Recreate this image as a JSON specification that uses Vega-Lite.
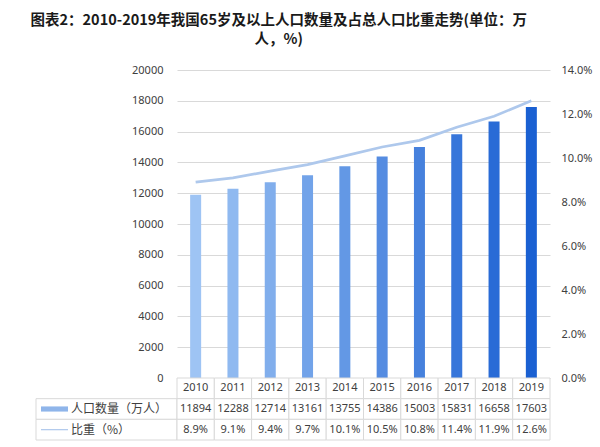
{
  "$schema": "https://vega.github.io/schema/vega-lite/v6.json",
  "background": "white",
  "padding": {"left": 30, "top": 12, "right": 5, "bottom": 5},
  "title": {
    "text": ["图表2：2010-2019年我国65岁及以上人口数量及占总人口比重走势(单位：万", "人，%)"],
    "font": "Noto Sans CJK SC",
    "fontSize": 14.5,
    "fontWeight": "bold",
    "color": "#1a1a1a",
    "anchor": "middle",
    "lineHeight": 19,
    "offset": 17,
    "dx": -35
  },
  "datasets": {
    "main": [
      {"year": 2010, "pop": 11894, "ratio": 0.089},
      {"year": 2011, "pop": 12288, "ratio": 0.091},
      {"year": 2012, "pop": 12714, "ratio": 0.094},
      {"year": 2013, "pop": 13161, "ratio": 0.097},
      {"year": 2014, "pop": 13755, "ratio": 0.101},
      {"year": 2015, "pop": 14386, "ratio": 0.105},
      {"year": 2016, "pop": 15003, "ratio": 0.108},
      {"year": 2017, "pop": 15831, "ratio": 0.114},
      {"year": 2018, "pop": 16658, "ratio": 0.119},
      {"year": 2019, "pop": 17603, "ratio": 0.126}
    ],
    "legend": [
      {"key": "pop", "label": "人口数量（万人）"},
      {"key": "ratio", "label": "比重（%）"}
    ]
  },
  "config": {
    "view": {"stroke": null},
    "font": "Noto Sans"
  },
  "columns": 2,
  "spacing": 0,
  "bounds": "flush",
  "concat": [
    {
      "width": 141,
      "height": 308,
      "data": {"values": [{"a": 1}]},
      "mark": {"type": "text", "text": ""},
      "encoding": {}
    },
    {
      "width": 373,
      "height": 308,
      "data": {"name": "main"},
      "encoding": {
        "x": {
          "field": "year",
          "type": "ordinal",
          "axis": null,
          "scale": {"paddingInner": 0.705, "paddingOuter": 0.3525}
        }
      },
      "layer": [
        {
          "mark": {"type": "bar"},
          "encoding": {
            "y": {
              "field": "pop",
              "type": "quantitative",
              "scale": {"domain": [0, 20000]},
              "axis": {
                "orient": "left",
                "values": [0, 2000, 4000, 6000, 8000, 10000, 12000, 14000, 16000, 18000, 20000],
                "format": "d",
                "grid": true,
                "gridColor": "#d9d9d9",
                "domain": false,
                "ticks": false,
                "labelPadding": 14,
                "labelFont": "Noto Sans",
                "labelFontSize": 11,
                "labelColor": "#404040",
                "title": null
              }
            },
            "color": {
              "field": "year",
              "type": "quantitative",
              "scale": {"domain": [2010, 2019], "range": ["#9ec4f4", "#1a60d2"], "interpolate": "rgb"},
              "legend": null
            }
          }
        },
        {
          "mark": {"type": "line", "color": "#aec8ec", "strokeWidth": 2.75},
          "encoding": {
            "y": {
              "field": "ratio",
              "type": "quantitative",
              "scale": {"domain": [0, 0.14]},
              "axis": {
                "orient": "right",
                "values": [0, 0.02, 0.04, 0.06, 0.08, 0.1, 0.12, 0.14],
                "format": ".1%",
                "grid": false,
                "domain": false,
                "ticks": false,
                "labelPadding": 11,
                "labelFont": "Noto Sans",
                "labelFontSize": 11,
                "labelColor": "#404040",
                "title": null
              }
            }
          }
        }
      ],
      "resolve": {"scale": {"y": "independent"}}
    },
    {
      "width": 141,
      "height": 62,
      "data": {"name": "legend"},
      "encoding": {
        "y": {
          "field": "key",
          "type": "nominal",
          "scale": {"domain": ["year", "pop", "ratio"], "paddingInner": 0, "paddingOuter": 0},
          "axis": null
        }
      },
      "layer": [
        {
          "mark": {"type": "rect", "fill": "white", "stroke": "#d9d9d9", "strokeWidth": 1}
        },
        {
          "mark": {"type": "point", "filled": true, "opacity": 1, "size": 729, "xOffset": -52},
          "encoding": {
            "shape": {
              "field": "key",
              "type": "nominal",
              "scale": {"domain": ["pop", "ratio"], "range": ["M-1,-0.19L1,-0.19L1,0.19L-1,0.19Z", "M-1,-0.045L1,-0.045L1,0.045L-1,0.045Z"]},
              "legend": null
            },
            "color": {
              "field": "key",
              "type": "nominal",
              "scale": {"domain": ["pop", "ratio"], "range": ["#8fb5ea", "#aec8ec"]},
              "legend": null
            }
          }
        },
        {
          "mark": {"type": "text", "align": "left", "baseline": "middle", "dx": -35.5, "font": "Noto Sans CJK SC", "fontSize": 12, "color": "#404040"},
          "encoding": {"text": {"field": "label", "type": "nominal"}}
        }
      ]
    },
    {
      "width": 373,
      "height": 62,
      "data": {"name": "main"},
      "encoding": {
        "x": {
          "field": "year",
          "type": "ordinal",
          "axis": null,
          "scale": {"paddingInner": 0, "paddingOuter": 0}
        }
      },
      "layer": [
        {
          "transform": [{"fold": ["year", "pop", "ratio"], "as": ["key", "value"]}],
          "mark": {"type": "rect", "fill": "white", "stroke": "#d9d9d9", "strokeWidth": 1},
          "encoding": {
            "y": {
              "field": "key",
              "type": "nominal",
              "scale": {"domain": ["year", "pop", "ratio"], "paddingInner": 0, "paddingOuter": 0},
              "axis": null
            }
          }
        },
        {
          "mark": {"type": "text", "baseline": "middle", "font": "Noto Sans", "fontSize": 11, "color": "#404040"},
          "encoding": {
            "y": {"datum": "year", "type": "nominal"},
            "text": {"field": "year", "type": "nominal"}
          }
        },
        {
          "mark": {"type": "text", "baseline": "middle", "font": "Noto Sans", "fontSize": 11, "color": "#404040"},
          "encoding": {
            "y": {"datum": "pop", "type": "nominal"},
            "text": {"field": "pop", "type": "quantitative", "format": "d"}
          }
        },
        {
          "mark": {"type": "text", "baseline": "middle", "font": "Noto Sans", "fontSize": 11, "color": "#404040"},
          "encoding": {
            "y": {"datum": "ratio", "type": "nominal"},
            "text": {"field": "ratio", "type": "quantitative", "format": ".1%"}
          }
        }
      ]
    }
  ]
}
